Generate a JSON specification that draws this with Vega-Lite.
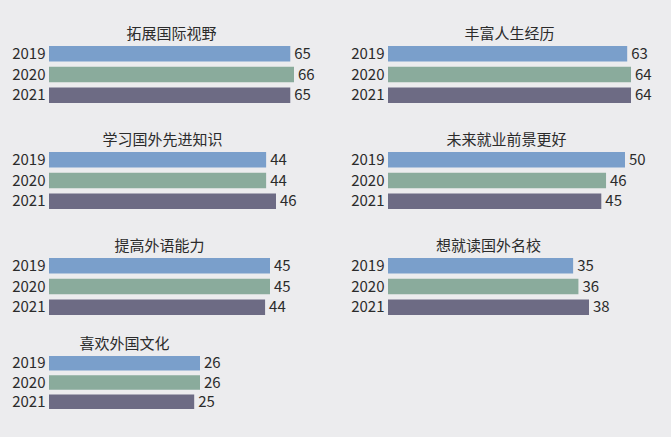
{
  "$schema": "https://vega.github.io/schema/vega-lite/v6.json",
  "background": "#ececee",
  "padding": {"left": 5, "top": 27, "right": 24, "bottom": 30},
  "data": {
    "values": [
      {"item": "拓展国际视野", "year": "2019", "value": 65},
      {"item": "拓展国际视野", "year": "2020", "value": 66},
      {"item": "拓展国际视野", "year": "2021", "value": 65},
      {"item": "丰富人生经历", "year": "2019", "value": 63},
      {"item": "丰富人生经历", "year": "2020", "value": 64},
      {"item": "丰富人生经历", "year": "2021", "value": 64},
      {"item": "学习国外先进知识", "year": "2019", "value": 44},
      {"item": "学习国外先进知识", "year": "2020", "value": 44},
      {"item": "学习国外先进知识", "year": "2021", "value": 46},
      {"item": "未来就业前景更好", "year": "2019", "value": 50},
      {"item": "未来就业前景更好", "year": "2020", "value": 46},
      {"item": "未来就业前景更好", "year": "2021", "value": 45},
      {"item": "提高外语能力", "year": "2019", "value": 45},
      {"item": "提高外语能力", "year": "2020", "value": 45},
      {"item": "提高外语能力", "year": "2021", "value": 44},
      {"item": "想就读国外名校", "year": "2019", "value": 35},
      {"item": "想就读国外名校", "year": "2020", "value": 36},
      {"item": "想就读国外名校", "year": "2021", "value": 38},
      {"item": "喜欢外国文化", "year": "2019", "value": 26},
      {"item": "喜欢外国文化", "year": "2020", "value": 26},
      {"item": "喜欢外国文化", "year": "2021", "value": 25}
    ]
  },
  "columns": 2,
  "bounds": "flush",
  "spacing": {"row": 41, "column": 94},
  "concat": [
    {
      "title": {"text": "拓展国际视野", "offset": -4},
      "width": 245, "height": 65,
      "transform": [{"filter": "datum.item == '拓展国际视野'"}],
      "encoding": {
        "y": {"field": "year", "type": "ordinal", "title": null,
              "scale": {"paddingInner": 0.25, "paddingOuter": 0.193, "align": 1}},
        "x": {"field": "value", "type": "quantitative", "axis": null,
              "scale": {"domain": [0, 66], "nice": false}},
        "color": {"field": "year", "type": "nominal", "legend": null,
                  "scale": {"domain": ["2019", "2020", "2021"], "range": ["#7a9fcb", "#8aab9c", "#6d6b84"]}}
      },
      "layer": [
        {"mark": {"type": "bar"}},
        {"mark": {"type": "text", "align": "left", "dx": 4, "fontSize": 15, "font": "Noto Sans CJK SC"},
         "encoding": {"text": {"field": "value"}, "color": {"value": "#2b2b2b"}}}
      ]
    },
    {
      "title": {"text": "丰富人生经历", "offset": -4},
      "width": 243, "height": 65,
      "transform": [{"filter": "datum.item == '丰富人生经历'"}],
      "encoding": {
        "y": {"field": "year", "type": "ordinal", "title": null,
              "scale": {"paddingInner": 0.25, "paddingOuter": 0.193, "align": 1}},
        "x": {"field": "value", "type": "quantitative", "axis": null,
              "scale": {"domain": [0, 64], "nice": false}},
        "color": {"field": "year", "type": "nominal", "legend": null,
                  "scale": {"domain": ["2019", "2020", "2021"], "range": ["#7a9fcb", "#8aab9c", "#6d6b84"]}}
      },
      "layer": [
        {"mark": {"type": "bar"}},
        {"mark": {"type": "text", "align": "left", "dx": 4, "fontSize": 15, "font": "Noto Sans CJK SC"},
         "encoding": {"text": {"field": "value"}, "color": {"value": "#2b2b2b"}}}
      ]
    },
    {
      "title": {"text": "学习国外先进知识", "offset": -4},
      "width": 227, "height": 65,
      "transform": [{"filter": "datum.item == '学习国外先进知识'"}],
      "encoding": {
        "y": {"field": "year", "type": "ordinal", "title": null,
              "scale": {"paddingInner": 0.25, "paddingOuter": 0.193, "align": 1}},
        "x": {"field": "value", "type": "quantitative", "axis": null,
              "scale": {"domain": [0, 46], "nice": false}},
        "color": {"field": "year", "type": "nominal", "legend": null,
                  "scale": {"domain": ["2019", "2020", "2021"], "range": ["#7a9fcb", "#8aab9c", "#6d6b84"]}}
      },
      "layer": [
        {"mark": {"type": "bar"}},
        {"mark": {"type": "text", "align": "left", "dx": 4, "fontSize": 15, "font": "Noto Sans CJK SC"},
         "encoding": {"text": {"field": "value"}, "color": {"value": "#2b2b2b"}}}
      ]
    },
    {
      "title": {"text": "未来就业前景更好", "offset": -4},
      "width": 237, "height": 65,
      "transform": [{"filter": "datum.item == '未来就业前景更好'"}],
      "encoding": {
        "y": {"field": "year", "type": "ordinal", "title": null,
              "scale": {"paddingInner": 0.25, "paddingOuter": 0.193, "align": 1}},
        "x": {"field": "value", "type": "quantitative", "axis": null,
              "scale": {"domain": [0, 50], "nice": false}},
        "color": {"field": "year", "type": "nominal", "legend": null,
                  "scale": {"domain": ["2019", "2020", "2021"], "range": ["#7a9fcb", "#8aab9c", "#6d6b84"]}}
      },
      "layer": [
        {"mark": {"type": "bar"}},
        {"mark": {"type": "text", "align": "left", "dx": 4, "fontSize": 15, "font": "Noto Sans CJK SC"},
         "encoding": {"text": {"field": "value"}, "color": {"value": "#2b2b2b"}}}
      ]
    },
    {
      "title": {"text": "提高外语能力", "offset": -4},
      "width": 221, "height": 65,
      "transform": [{"filter": "datum.item == '提高外语能力'"}],
      "encoding": {
        "y": {"field": "year", "type": "ordinal", "title": null,
              "scale": {"paddingInner": 0.25, "paddingOuter": 0.193, "align": 1}},
        "x": {"field": "value", "type": "quantitative", "axis": null,
              "scale": {"domain": [0, 45], "nice": false}},
        "color": {"field": "year", "type": "nominal", "legend": null,
                  "scale": {"domain": ["2019", "2020", "2021"], "range": ["#7a9fcb", "#8aab9c", "#6d6b84"]}}
      },
      "layer": [
        {"mark": {"type": "bar"}},
        {"mark": {"type": "text", "align": "left", "dx": 4, "fontSize": 15, "font": "Noto Sans CJK SC"},
         "encoding": {"text": {"field": "value"}, "color": {"value": "#2b2b2b"}}}
      ]
    },
    {
      "title": {"text": "想就读国外名校", "offset": -4},
      "width": 201, "height": 65,
      "transform": [{"filter": "datum.item == '想就读国外名校'"}],
      "encoding": {
        "y": {"field": "year", "type": "ordinal", "title": null,
              "scale": {"paddingInner": 0.25, "paddingOuter": 0.193, "align": 1}},
        "x": {"field": "value", "type": "quantitative", "axis": null,
              "scale": {"domain": [0, 38], "nice": false}},
        "color": {"field": "year", "type": "nominal", "legend": null,
                  "scale": {"domain": ["2019", "2020", "2021"], "range": ["#7a9fcb", "#8aab9c", "#6d6b84"]}}
      },
      "layer": [
        {"mark": {"type": "bar"}},
        {"mark": {"type": "text", "align": "left", "dx": 4, "fontSize": 15, "font": "Noto Sans CJK SC"},
         "encoding": {"text": {"field": "value"}, "color": {"value": "#2b2b2b"}}}
      ]
    },
    {
      "title": {"text": "喜欢外国文化", "offset": 4},
      "width": 151, "height": 53,
      "transform": [{"filter": "datum.item == '喜欢外国文化'"}],
      "encoding": {
        "y": {"field": "year", "type": "ordinal", "title": null,
              "scale": {"paddingInner": 0.25, "paddingOuter": 0}},
        "x": {"field": "value", "type": "quantitative", "axis": null,
              "scale": {"domain": [0, 26], "nice": false}},
        "color": {"field": "year", "type": "nominal", "legend": null,
                  "scale": {"domain": ["2019", "2020", "2021"], "range": ["#7a9fcb", "#8aab9c", "#6d6b84"]}}
      },
      "layer": [
        {"mark": {"type": "bar"}},
        {"mark": {"type": "text", "align": "left", "dx": 4, "fontSize": 15, "font": "Noto Sans CJK SC"},
         "encoding": {"text": {"field": "value"}, "color": {"value": "#2b2b2b"}}}
      ]
    }
  ],
  "resolve": {"scale": {"x": "independent", "y": "independent"}},
  "config": {
    "font": "Noto Sans CJK SC",
    "view": {"stroke": null},
    "title": {"font": "Noto Sans CJK SC", "fontSize": 15, "fontWeight": "normal", "color": "#2b2b2b", "anchor": "middle"},
    "axisY": {"domain": false, "ticks": false, "grid": false, "labelPadding": 4, "labelFontSize": 15,
              "labelColor": "#2b2b2b", "labelFont": "Noto Sans CJK SC", "minExtent": 44, "maxExtent": 44}
  }
}
